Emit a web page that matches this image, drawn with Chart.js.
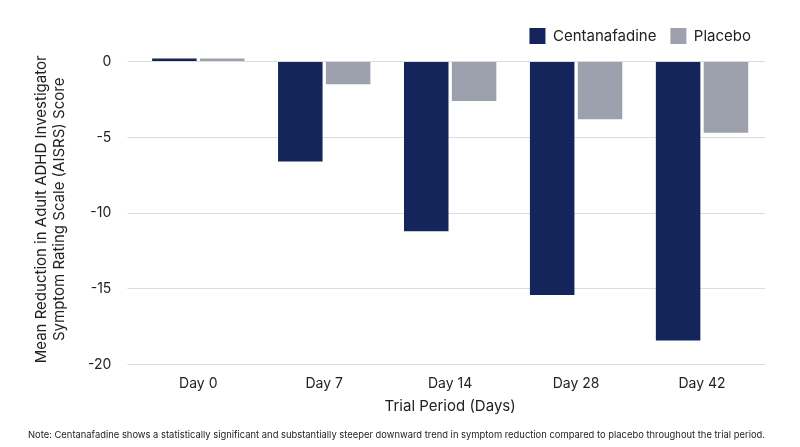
<!DOCTYPE html>
<html>
<head>
<meta charset="utf-8">
<script src="https://cdn.jsdelivr.net/npm/chart.js@4"></script>
<style>
  html, body { margin: 0; padding: 0; background: #fff; }
  #wrap { width: 800px; height: 447px; }
</style>
</head>
<body>
<div id="wrap"><canvas id="chart"></canvas></div>
<script>
// values
const categories = ['Day 0', 'Day 7', 'Day 14', 'Day 28', 'Day 42'];
const centanafadine = [0.2, -6.6, -11.2, -15.4, -18.4];
const placebo = [0.2, -1.5, -2.6, -3.8, -4.7];
const yTicks = [0, -5, -10, -15, -20];

const font = 'Inter, "Open Sans", sans-serif';

new Chart(document.getElementById('chart'), {
    type: 'bar',
    data: {
        labels: categories,
        datasets: [
            { label: 'Centanafadine', data: centanafadine, backgroundColor: '#13255a', categoryPercentage: 0.76, barPercentage: 0.93 },
            { label: 'Placebo', data: placebo, backgroundColor: '#9da1ae', categoryPercentage: 0.76, barPercentage: 0.93 }
        ]
    },
    options: {
        responsive: true, maintainAspectRatio: false, animation: false,
        layout: { padding: { left: 28, right: 35, top: 14, bottom: 4 } },
        scales: {
            x: {
                grid: { display: false }, border: { display: false },
                ticks: { color: '#222', font: { family: font, size: 14 } },
                title: { display: true, text: 'Trial Period (Days)', color: '#222', font: { family: font, size: 15 }, padding: { top: 2 } }
            },
            y: {
                min: -20, max: 0.5,
                afterBuildTicks: s => { s.ticks = yTicks.map(v => ({ value: v })); },
                grid: { color: '#dcdcdc' }, border: { display: false },
                ticks: { color: '#222', font: { family: font, size: 14 }, padding: 16 },
                title: { display: true, text: ['Mean Reduction in Adult ADHD Investigator', 'Symptom Rating Scale (AISRS) Score'], color: '#222', font: { family: font, size: 15 }, padding: { bottom: 4 } }
            }
        },
        plugins: {
            legend: {
                align: 'end',
                labels: { color: '#222', font: { family: font, size: 15 }, boxWidth: 16, boxHeight: 16, padding: 14 }
            },
            tooltip: { enabled: false },
            subtitle: {
                display: true, position: 'bottom',
                text: 'Note: Centanafadine shows a statistically significant and substantially steeper downward trend in symptom reduction compared to placebo throughout the trial period.',
                color: '#222', font: { family: font, size: 9.6 }, padding: { top: 10, bottom: 2 }
            }
        }
    }
});
</script>
</body>
</html>
